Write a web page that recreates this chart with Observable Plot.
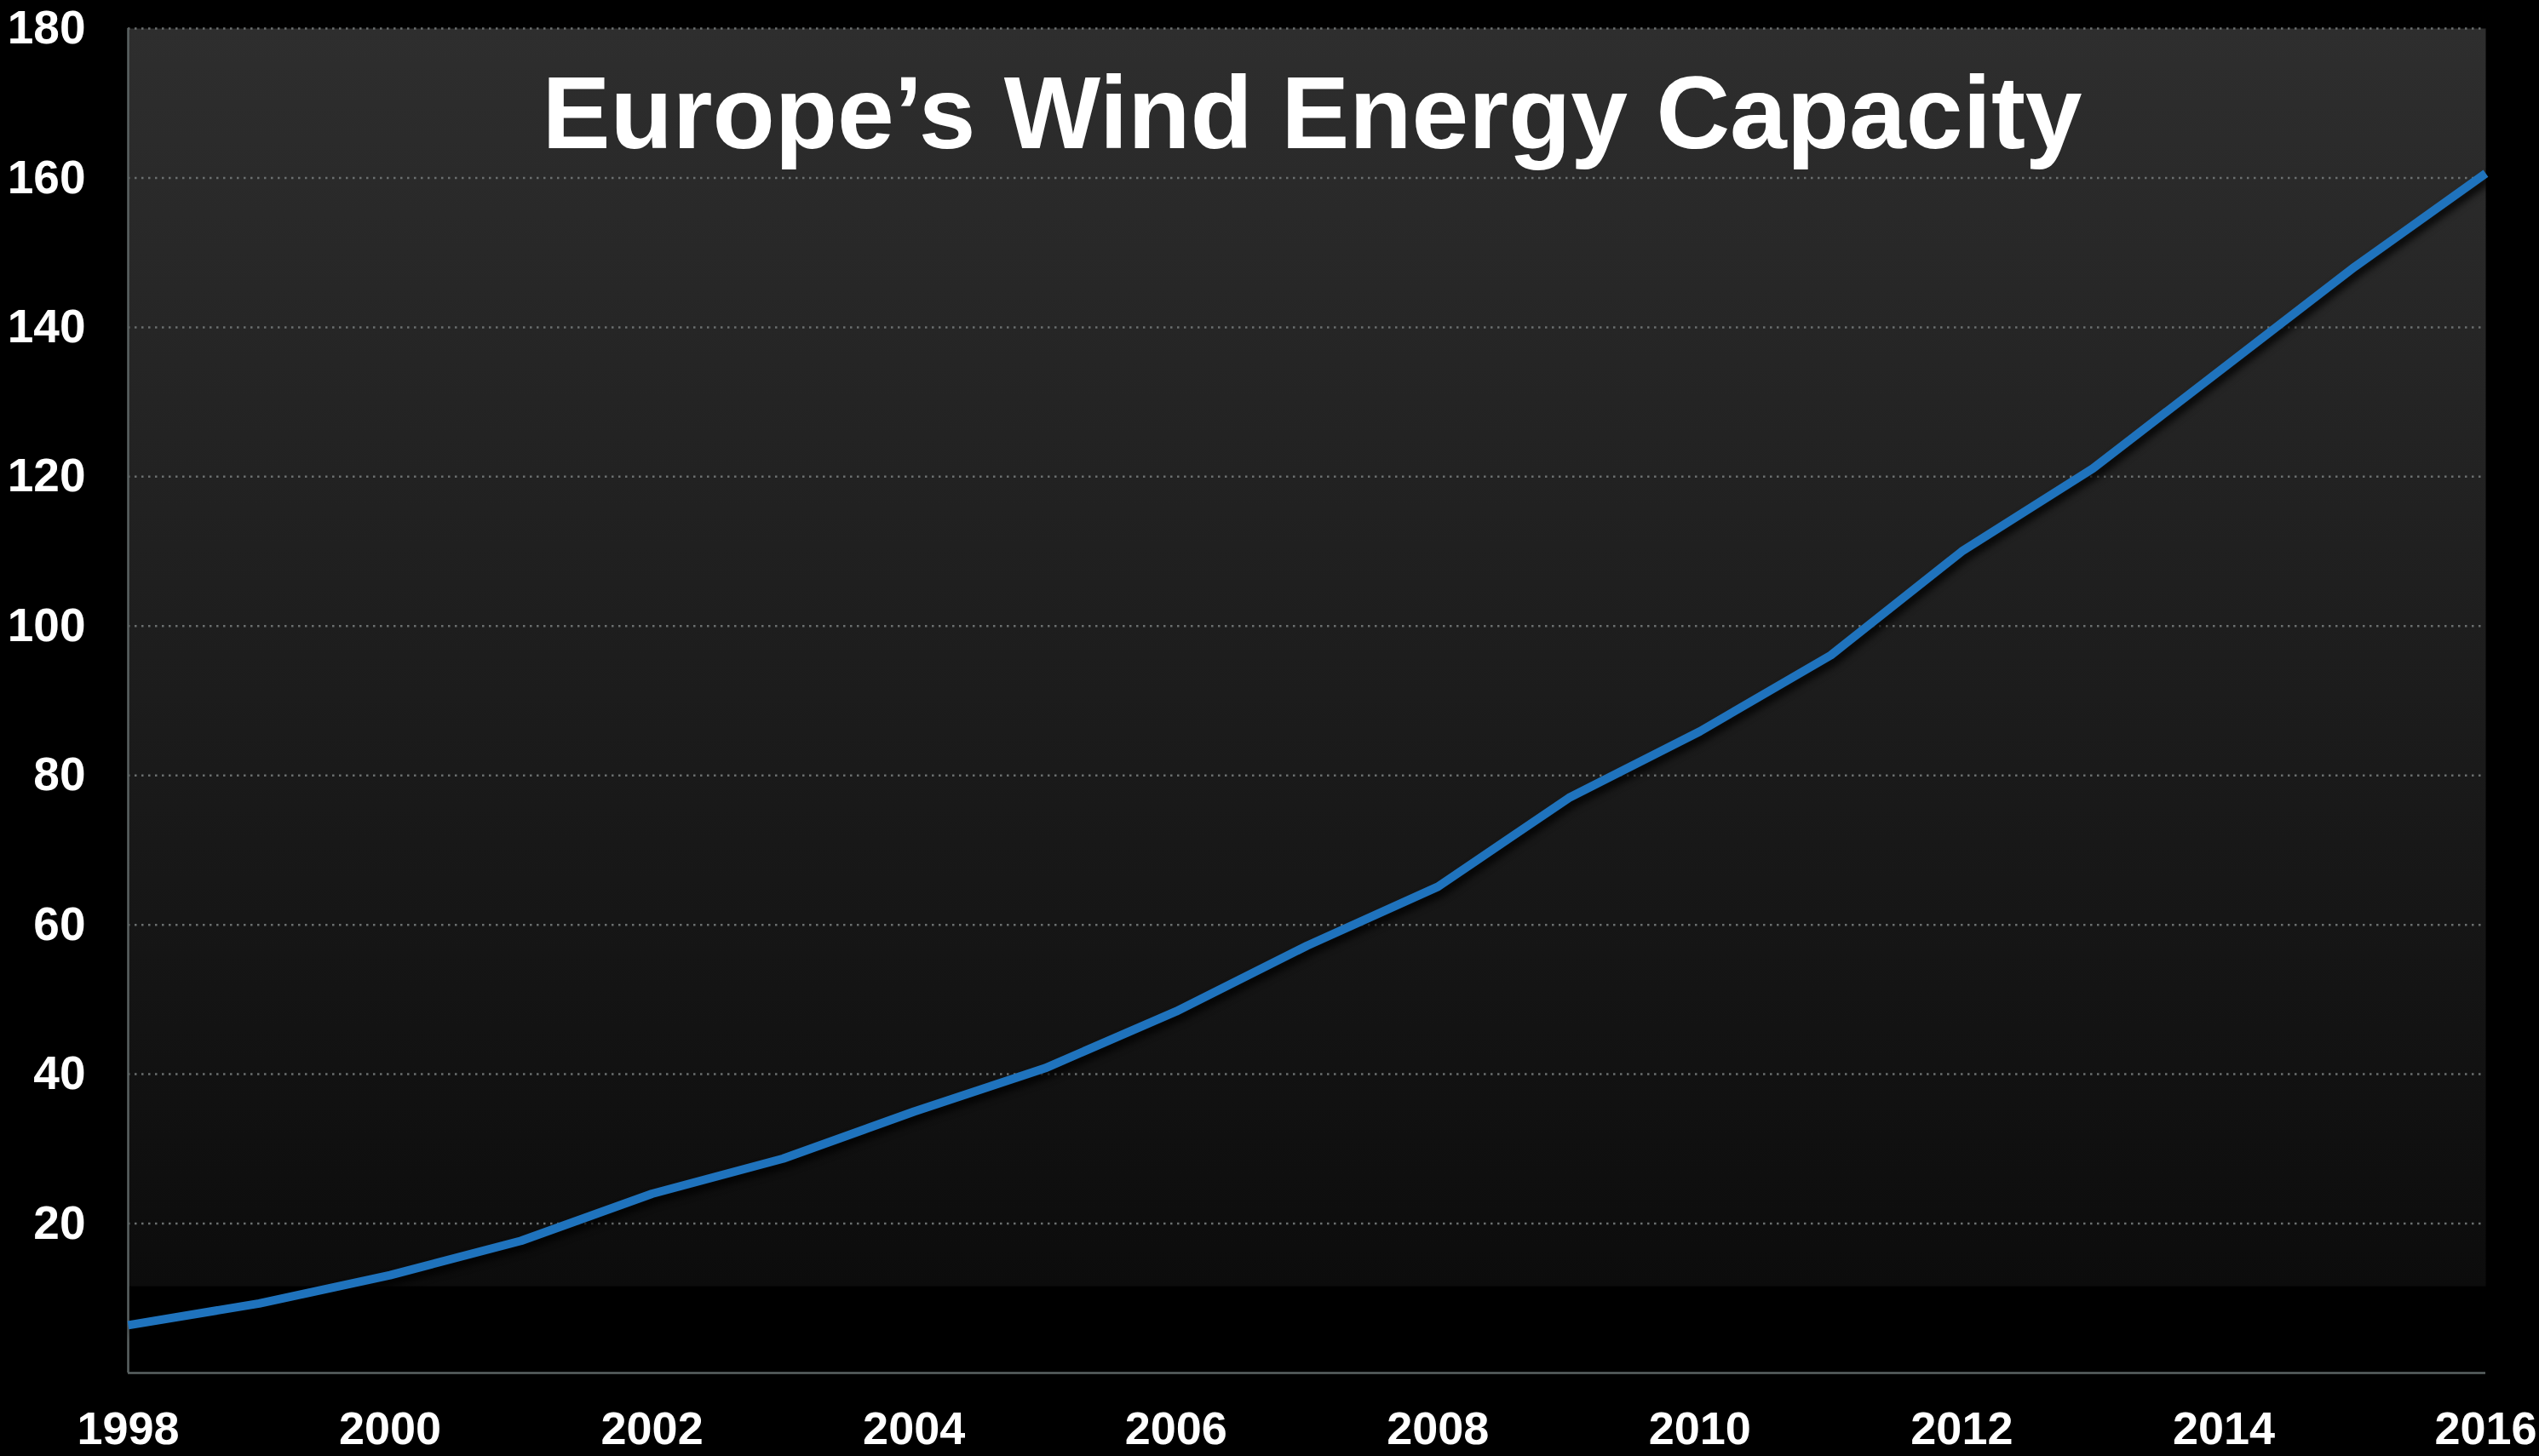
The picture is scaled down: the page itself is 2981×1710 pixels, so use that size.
<!DOCTYPE html>
<html>
<head>
<meta charset="utf-8">
<script src="https://cdn.jsdelivr.net/npm/d3@7"></script>
<script src="https://cdn.jsdelivr.net/npm/@observablehq/plot@0.6"></script>
<style>
  html, body { margin: 0; padding: 0; background: #000; }
  #chart svg { display: block; }
</style>
</head>
<body>
<div id="chart"></div>
<script>
const years = [1998, 1999, 2000, 2001, 2002, 2003, 2004, 2005, 2006, 2007, 2008, 2009, 2010, 2011, 2012, 2013, 2014, 2015, 2016];
const capacity = [6.4, 9.3, 13.1, 17.7, 24.0, 28.7, 35.0, 40.8, 48.4, 57.2, 65.1, 77.0, 85.9, 96.1, 110.0, 121.1, 134.6, 148.1, 160.6];
const xTicks = [1998, 2000, 2002, 2004, 2006, 2008, 2010, 2012, 2014, 2016];
const yTicks = [20, 40, 60, 80, 100, 120, 140, 160, 180];
const title = "Europe’s Wind Energy Capacity";

const data = years.map((y, i) => ({year: y, value: capacity[i]}));

const font = "'Liberation Sans', Arial, Helvetica, sans-serif";

const svg = Plot.plot({
  width: 2981,
  height: 1710,
  marginLeft: 150,
  marginRight: 63,
  marginTop: 33,
  marginBottom: 98,
  style: {background: "#000", color: "#fff", fontFamily: font},
  x: {domain: [1998, 2016], ticks: xTicks, tickFormat: d3.format("d")},
  y: {domain: [0, 180], ticks: yTicks},
  marks: [
    Plot.frame({fill: "url(#bgGrad)", stroke: "none"}),
    Plot.gridY(yTicks, {stroke: "#6b6f6f", strokeOpacity: 1, strokeWidth: 2.5, strokeDasharray: "2.5,5.5"}),
    Plot.ruleX([1998], {stroke: "#5b6363", strokeWidth: 2.5}),
    Plot.ruleY([0], {stroke: "#5b6363", strokeWidth: 2.5}),
    Plot.line(data, {x: "year", y: "value", stroke: "#1f73bd", strokeWidth: 10, strokeLinejoin: "miter", strokeLinecap: "butt"}),
    Plot.axisY({ticks: yTicks, tickSize: 0, tickPadding: 50, fontSize: 55, fontWeight: "bold", fill: "#fff", label: null}),
    Plot.axisX({ticks: xTicks, tickSize: 0, tickPadding: 45, fontSize: 54, fontWeight: "bold", fill: "#fff", label: null, tickFormat: d3.format("d")}),
    Plot.text([title], {frameAnchor: "top", dx: 6, dy: 55, lineAnchor: "top", fontSize: 120, fontWeight: "bold", fill: "#fff", fontFamily: font})
  ]
});

// gradient background for the plot area
const ns = "http://www.w3.org/2000/svg";
const defs = document.createElementNS(ns, "defs");
defs.innerHTML = `
  <linearGradient id="bgGrad" x1="0" y1="0" x2="0" y2="1">
    <stop offset="0" stop-color="#2e2e2e"/>
    <stop offset="0.935" stop-color="#0c0c0c"/>
    <stop offset="0.936" stop-color="#000000"/>
    <stop offset="1" stop-color="#000000"/>
  </linearGradient>`;
svg.insertBefore(defs, svg.firstChild);

const linePath = svg.querySelector('[aria-label="line"]');
if (linePath) linePath.style.filter = "drop-shadow(4px 6px 4px rgba(0,0,0,0.85))";

document.getElementById("chart").appendChild(svg);
</script>
</body>
</html>
